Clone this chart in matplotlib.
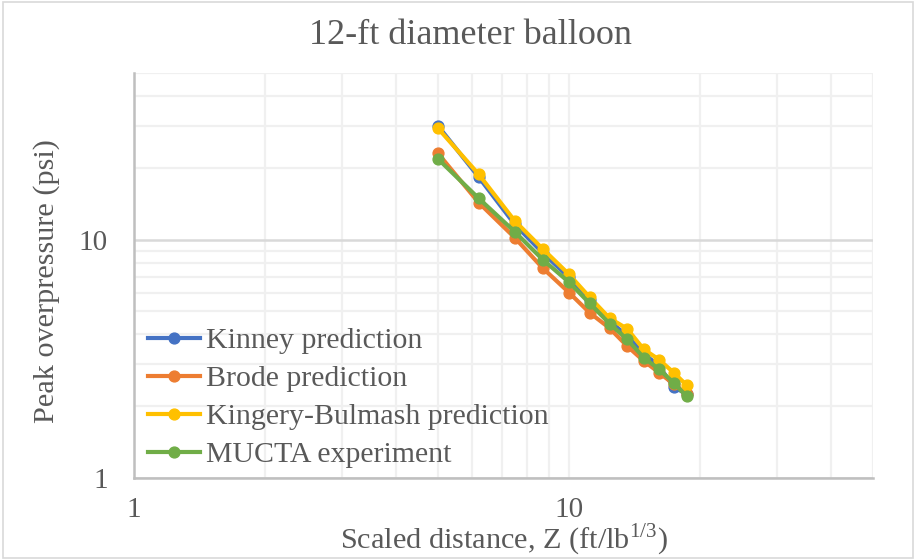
import matplotlib.pyplot as plt
from matplotlib.ticker import LogLocator, NullFormatter, FixedLocator
from matplotlib.patches import Rectangle

# scaled distance Z (ft/lb^1/3) and peak overpressure (psi)
z = [5.0, 6.2, 7.5, 8.7, 10.0, 11.15, 12.4, 13.6, 14.85, 16.1, 17.4, 18.65]
kinney = [30.0, 18.3, 11.6, 8.8, 6.95, 5.6, 4.55, 3.95, 3.32, 2.96, 2.41, 2.25]
brode = [23.0, 14.3, 10.2, 7.6, 6.0, 4.94, 4.25, 3.58, 3.10, 2.77, 2.48, 2.25]
kingery = [29.3, 18.8, 12.0, 9.15, 7.15, 5.74, 4.68, 4.23, 3.47, 3.14, 2.77, 2.45]
mucta = [21.8, 14.9, 10.8, 8.25, 6.63, 5.41, 4.44, 3.82, 3.20, 2.86, 2.51, 2.20]

series = [
    ("Kinney prediction", kinney, "#4472C4"),
    ("Brode prediction", brode, "#ED7D31"),
    ("Kingery-Bulmash prediction", kingery, "#FFC000"),
    ("MUCTA experiment", mucta, "#70AD47"),
]

plt.rcParams["font.family"] = ["Liberation Serif", "DejaVu Serif"]
txt = "#595959"
W, H = 916, 560

fig = plt.figure(figsize=(W / 100, H / 100), dpi=100)
fig.patches.append(Rectangle((0.003, 0.003), 0.994, 0.994, transform=fig.transFigure,
                             fill=False, edgecolor="#D9D9D9", linewidth=1.2))
ax = fig.add_axes([134 / W, 1 - 478 / H, (873 - 134) / W, (478 - 73) / H])

for name, vals, col in series:
    ax.plot(z, vals, color=col, linewidth=3.0, marker="o", markersize=7.8,
            label=name, zorder=3)

ax.set_xscale("log")
ax.set_yscale("log")
ax.set_xlim(1, 50)
ax.set_ylim(1, 50)

ax.xaxis.set_major_locator(FixedLocator([1, 10]))
ax.yaxis.set_major_locator(FixedLocator([1, 10]))
ax.xaxis.set_minor_locator(LogLocator(base=10, subs=range(2, 10)))
ax.yaxis.set_minor_locator(LogLocator(base=10, subs=range(2, 10)))
ax.xaxis.set_minor_formatter(NullFormatter())
ax.yaxis.set_minor_formatter(NullFormatter())
ax.set_xticklabels(["1", "10"])
ax.set_yticklabels(["1", "10"])

ax.grid(which="minor", color="#F0F0F0", linewidth=1.6, zorder=0)
ax.grid(which="major", axis="x", color="#F0F0F0", linewidth=1.6, zorder=0)
ax.grid(which="major", axis="y", color="#D9D9D9", linewidth=1.8, zorder=0)
ax.set_axisbelow(True)

for side in ("top", "right"):
    ax.spines[side].set_visible(False)
for side in ("left", "bottom"):
    ax.spines[side].set_color("#BFBFBF")
    ax.spines[side].set_linewidth(1.8)

ax.tick_params(which="both", length=0, labelsize=21, labelcolor=txt)
ax.tick_params(axis="x", pad=14)
ax.tick_params(axis="y", pad=19)

fig.text(470 / W, 1 - 44 / H, "12-ft diameter balloon", fontsize=26, color=txt,
         ha="center", va="baseline")
fig.text(504 / W, 1 - 549 / H, r"Scaled distance, Z (ft/lb$^{\mathregular{1/3}}$)",
         fontsize=21.8, color=txt, ha="center", va="baseline")
fig.text(47 / W, 1 - 281 / H, "Peak overpressure (psi)", fontsize=21.8, color=txt,
         ha="center", va="center", rotation=90)

ax.legend(loc="lower left", bbox_to_anchor=(14 / (873 - 134), 10 / (478 - 73)),
          frameon=False, fontsize=21.5, labelcolor=txt, handlelength=1.75,
          handletextpad=0.2, labelspacing=0.37, borderaxespad=0, borderpad=0)

fig.savefig("out.png", dpi=100)
